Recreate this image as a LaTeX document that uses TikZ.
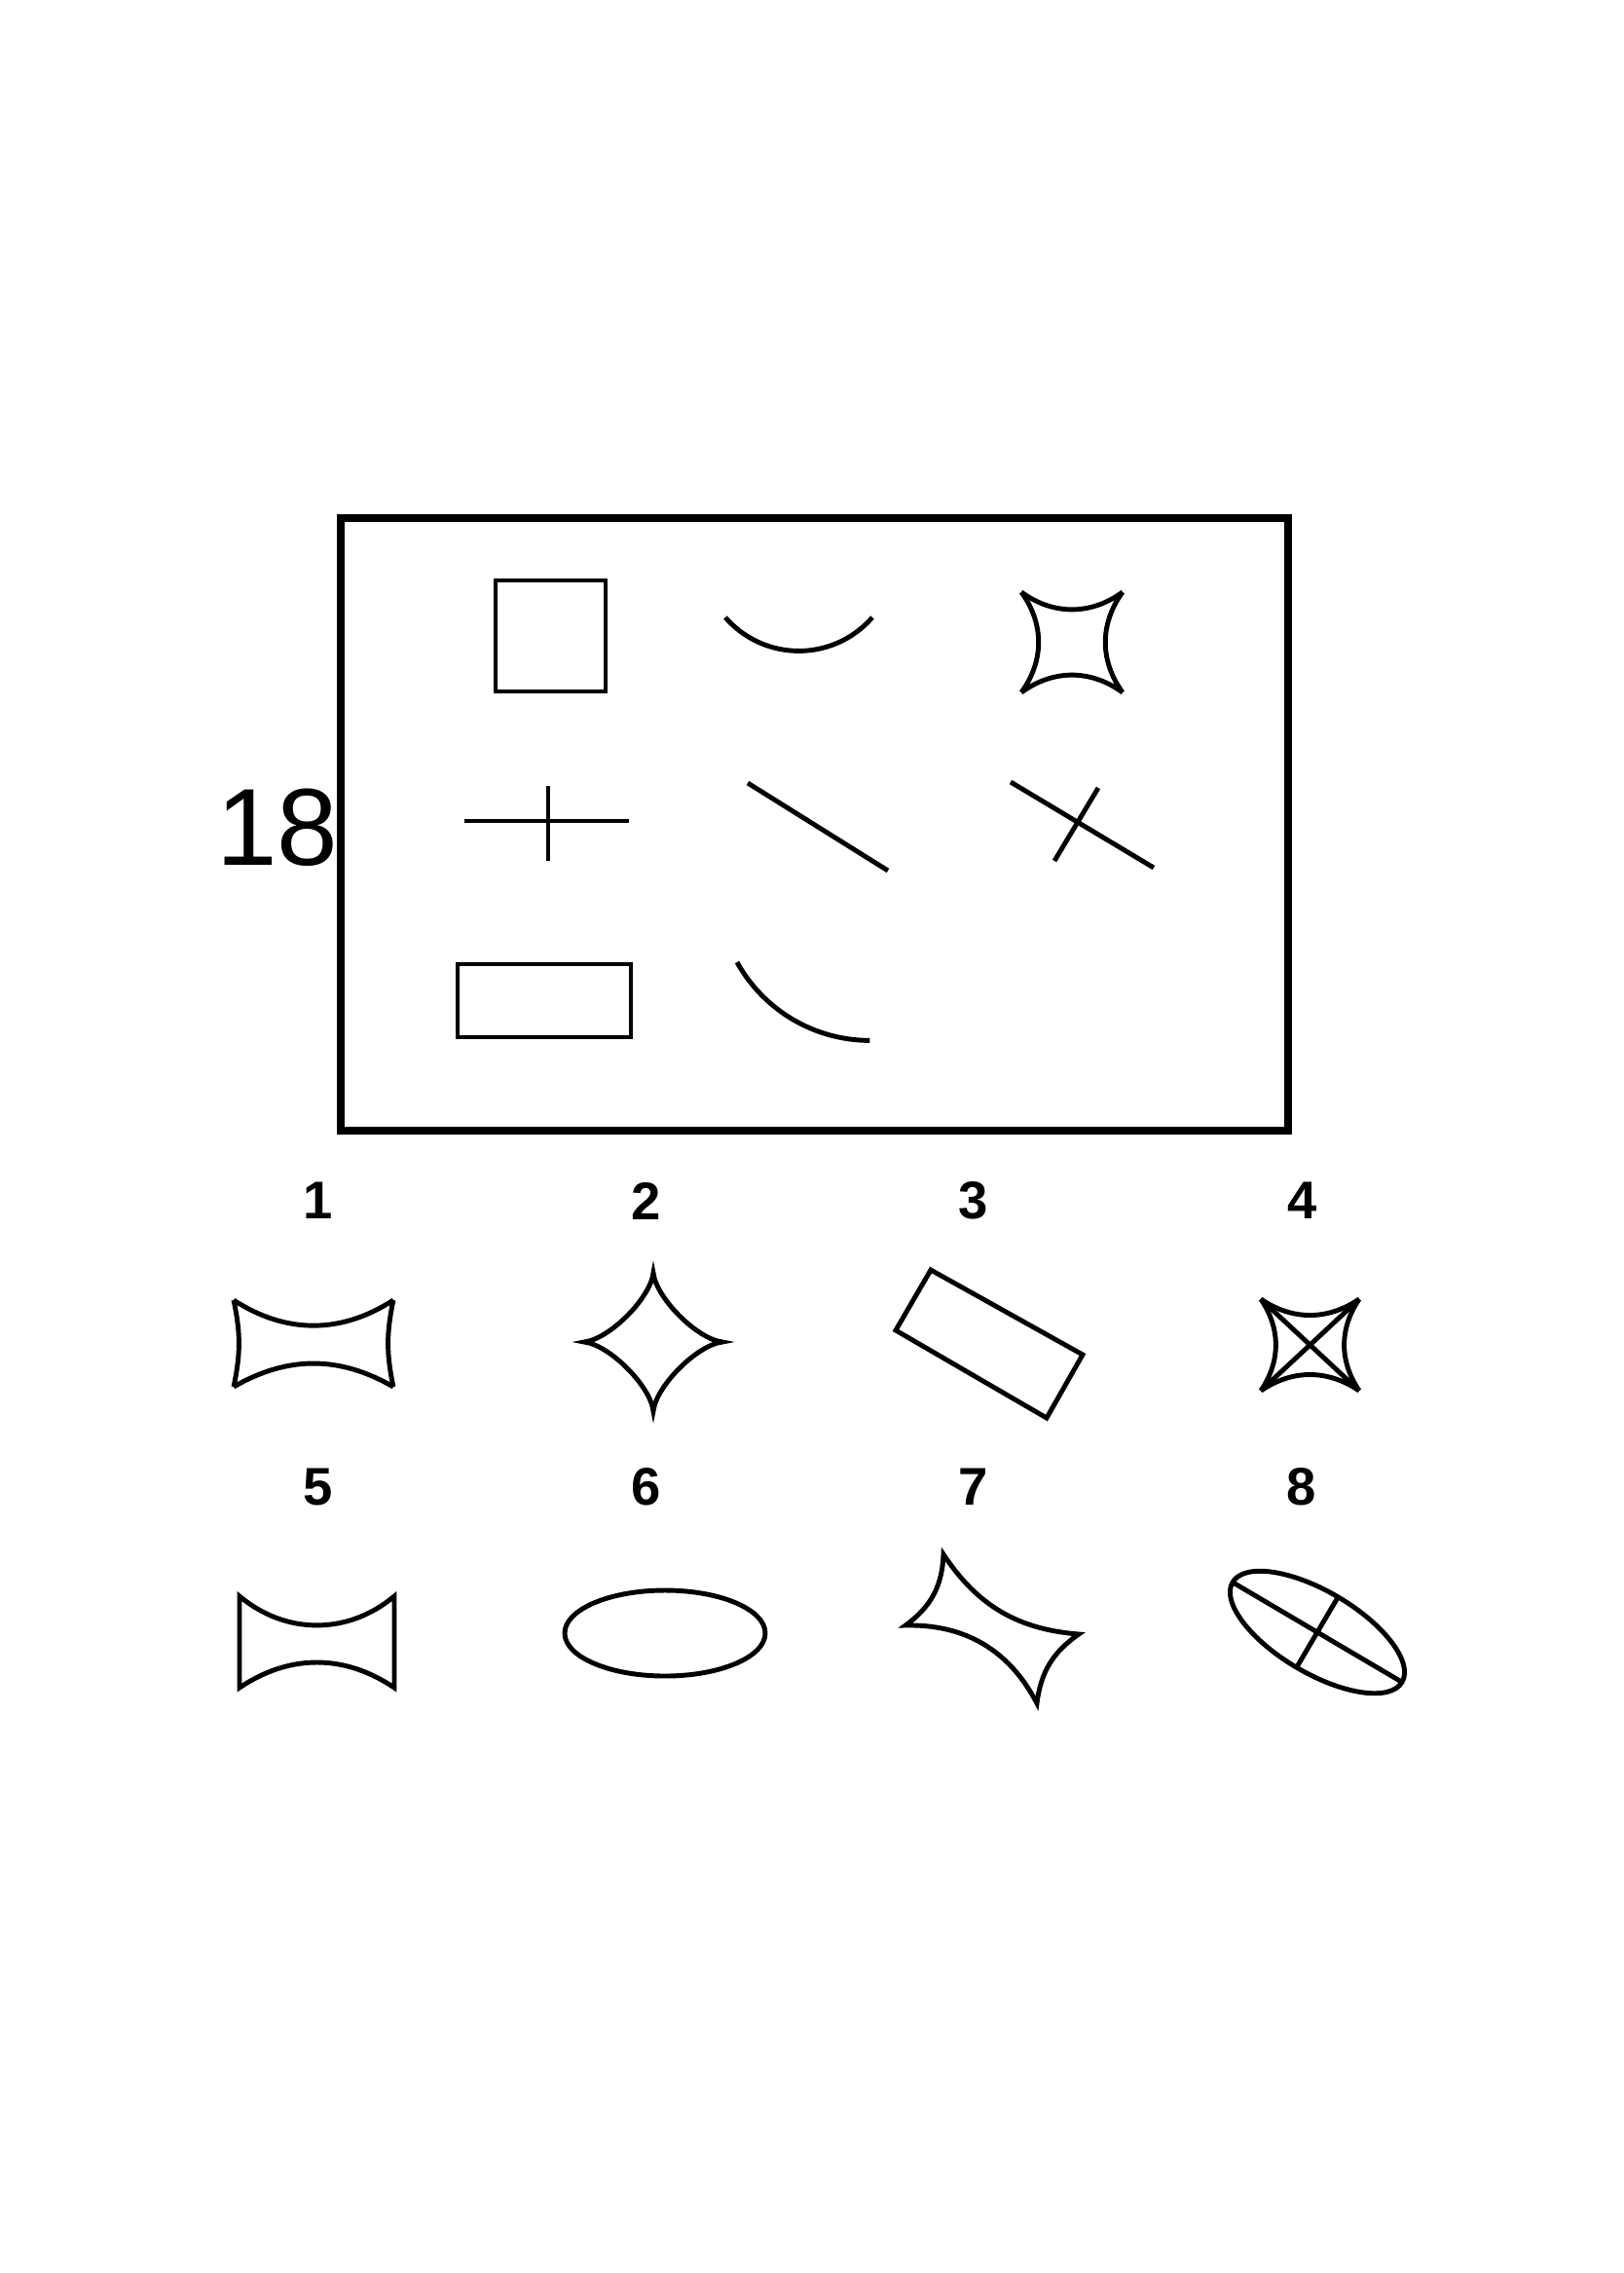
\documentclass[tikz,border=0pt]{standalone}
\usepackage{fontspec}
\setmainfont{Liberation Sans}
\usepackage{tikz}
\usetikzlibrary{calc,positioning}
\tikzset{fig/.style={line width=1.4pt},frame/.style={line width=2.4pt},
num/.style={font=\bfseries\fontsize{15.5}{16}\selectfont,inner sep=0pt},
big/.style={font=\fontsize{32}{34}\selectfont,inner sep=0pt}}

\begin{document}
\begin{tikzpicture}
		\useasboundingbox (0,0) rectangle (16.67,-23.34);
		% task frame
		\draw[frame] (3.50,-5.32) rectangle (13.23,-11.61);
		\node[big] (n18) at (2.85,-8.50) {18};
		% row 1
		\draw[fig] (5.09,-5.96) rectangle (6.22,-7.10);
		\draw[fig] (7.45,-6.34) arc[start angle=221, end angle=319, radius=1.0];
		\draw[fig] (10.49,-6.08) to[bend right=36] (11.53,-6.08) (11.53,-6.08) to[bend right=36] (11.53,-7.11)
			(11.53,-7.11) to[bend right=36] (10.49,-7.11) (10.49,-7.11) to[bend right=36] (10.49,-6.08);
		% row 2
		\draw[fig] (4.77,-8.43) -- (6.46,-8.43);
		\draw[fig] (5.63,-8.07) -- (5.63,-8.84);
		\draw[fig] (7.68,-8.04) -- (9.12,-8.94);
		\draw[fig] (10.38,-8.03) -- (11.85,-8.91);
		\draw[fig] (11.28,-8.09) -- (10.83,-8.84);
		% row 3
		\draw[fig] (4.70,-9.90) rectangle (6.48,-10.65);
		\draw[fig] (7.57,-9.88) arc[start angle=209, end angle=270, radius=1.56];
		% answers
		\foreach \i/\x/\y in {1/3.27/-12.33,2/6.64/-12.33,3/10.00/-12.33,4/13.38/-12.33,
			5/3.27/-15.27,6/6.64/-15.27,7/10.00/-15.27,8/13.37/-15.27}
			\node[num] (l\i) at (\x,\y) {\i};
		% 1
		\draw[fig] (2.40,-13.35) to[bend right=33] (4.04,-13.35) (4.04,-13.35) to[bend right=12] (4.04,-14.24)
			(4.04,-14.24) to[bend right=30] (2.40,-14.24) (2.40,-14.24) to[bend right=12] (2.40,-13.35);
		% 2
		\begin{scope}[shift={(6.71,-13.78)}]
			\draw[fig] (0,0.71) .. controls (0.03,0.45) and (0.45,0.03) .. (0.71,0)
				.. controls (0.45,-0.03) and (0.03,-0.45) .. (0,-0.71)
				.. controls (-0.03,-0.45) and (-0.45,-0.03) .. (-0.71,0)
				.. controls (-0.45,0.03) and (-0.03,0.45) .. cycle;
		\end{scope}
		% 3
		\draw[fig] (9.56,-13.04) -- (11.12,-13.91) -- (10.75,-14.56) -- (9.20,-13.66) -- cycle;
		% 4
		\draw[fig] (12.95,-13.34) to[bend right=34] (13.96,-13.34) (13.96,-13.34) to[bend right=34] (13.96,-14.28)
			(13.96,-14.28) to[bend right=34] (12.95,-14.28) (12.95,-14.28) to[bend right=34] (12.95,-13.34);
		\draw[fig] (12.95,-13.34) -- (13.96,-14.28);
		\draw[fig] (13.96,-13.34) -- (12.95,-14.28);
		% 5
		\draw[fig] (2.46,-16.39) to[bend right=40] (4.05,-16.39) -- (4.05,-17.33)
			to[bend right=34] (2.46,-17.33) -- cycle;
		% 6
		\draw[fig] (6.83,-16.77) ellipse [x radius=1.03, y radius=0.44];
		% 7
		\draw[fig] (9.30,-16.69) to[bend right=26] (9.69,-15.96) to[bend right=26] (11.08,-16.78)
			to[bend right=24] (10.65,-17.49) to[bend right=32] cycle;
		% 8
		\begin{scope}[shift={(13.53,-16.76)}, rotate=-30.5]
			\draw[fig] (0,0) ellipse [x radius=1.01, y radius=0.42];
			\draw[fig] (-1.01,0) -- (1.01,0);
			\draw[fig] (0,0.42) -- (0,-0.42);
		\end{scope}
	\end{tikzpicture}
\end{document}
